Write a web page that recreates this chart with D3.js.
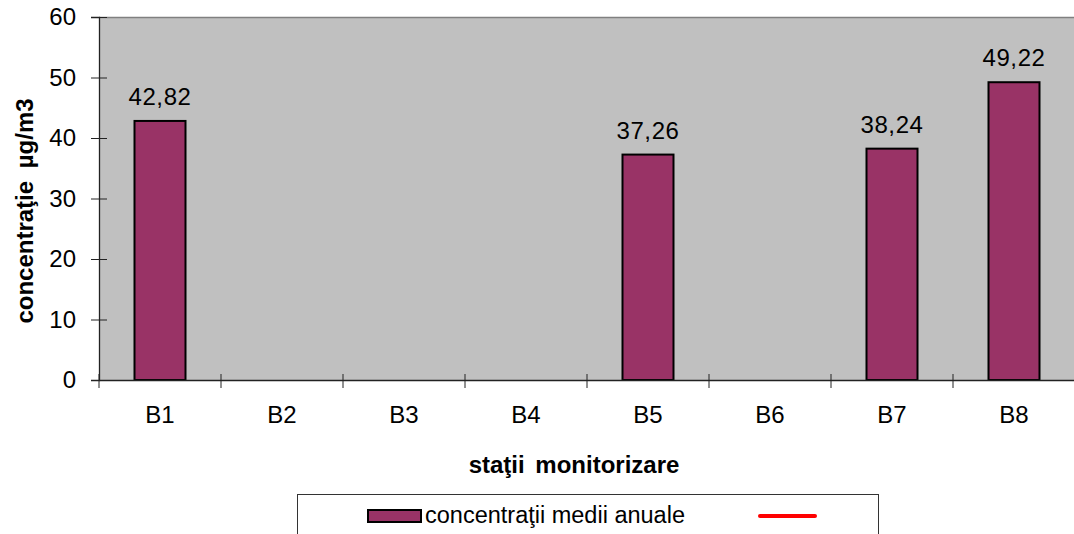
<!DOCTYPE html>
<html><head><meta charset="utf-8">
<script src="https://cdn.jsdelivr.net/npm/d3@7"></script>
<style>body{margin:0;background:#fff;}svg{display:block;font-family:"Liberation Sans",Arial,sans-serif;}</style>
</head><body>
<svg id="c" width="1074" height="534"></svg>
<script>
const categories = ["B1","B2","B3","B4","B5","B6","B7","B8"];
const values = [42.82, null, null, null, 37.26, null, 38.24, 49.22];
const yTicks = [0,10,20,30,40,50,60];
const seriesName = "concentraţii medii anuale";
const xTitle = "staţii monitorizare";
const yTitle = "concentraţie µg/m3";

const FS = 24;
const svg = d3.select("#c");
const m = {left:99, top:17, right:1075, bottom:380};
const x = d3.scaleBand().domain(categories).range([m.left, m.right]).paddingInner(0).paddingOuter(0);
const y = d3.scaleLinear().domain([0,60]).range([m.bottom, m.top]);

svg.append("rect").attr("x",m.left).attr("y",m.top).attr("width",m.right-m.left).attr("height",m.bottom-m.top).attr("fill","#c0c0c0");
svg.append("line").attr("x1",m.left).attr("x2",m.right).attr("y1",m.top+0.5).attr("y2",m.top+0.5).attr("stroke","#808080").attr("stroke-width",1.5);

const bw = 51;
const data = categories.map((c,i)=>({c, v: values[i]})).filter(d=>d.v!=null);
svg.selectAll("rect.bar").data(data).enter().append("rect").attr("class","bar")
  .attr("x", d=>x(d.c)+x.bandwidth()/2-bw/2)
  .attr("y", d=>y(d.v))
  .attr("width", bw)
  .attr("height", d=>y(0)-y(d.v))
  .attr("fill","#993366").attr("stroke","#000").attr("stroke-width",2);

const fmt = v => d3.format(".2f")(v).replace(".",",");
svg.selectAll("text.val").data(data).enter().append("text")
  .attr("x", d=>x(d.c)+x.bandwidth()/2)
  .attr("y", d=>y(d.v)-16)
  .attr("text-anchor","middle").attr("font-size",FS).attr("letter-spacing",0.6).attr("fill","#000")
  .text(d=>fmt(d.v));

// Y axis
const ya = svg.append("g").attr("transform",`translate(${m.left},0)`)
  .call(d3.axisLeft(y).tickValues(yTicks).tickSize(8).tickPadding(15));
ya.select(".domain").attr("stroke","#222").attr("stroke-width",1.3);
ya.selectAll(".tick line").attr("x2",-8).attr("x1",8).attr("stroke","#222");
ya.selectAll("text").attr("font-size",FS).attr("fill","#000").attr("font-family","Liberation Sans, Arial, sans-serif");

// X axis
const xa = svg.append("g").attr("transform",`translate(0,${m.bottom})`)
  .call(d3.axisBottom(x).tickSize(0).tickPadding(26));
xa.select(".domain").attr("stroke","#222").attr("stroke-width",1.3);
xa.selectAll("text").attr("font-size",FS).attr("fill","#000").attr("font-family","Liberation Sans, Arial, sans-serif");
const bounds = categories.map(c=>x(c)).concat([m.right]);
svg.selectAll("line.xt").data(bounds).enter().append("line")
  .attr("x1",d=>d).attr("x2",d=>d).attr("y1",m.bottom-6).attr("y2",m.bottom+8).attr("stroke","#222");

// Titles
svg.append("text").attr("x",574).attr("y",473).attr("text-anchor","middle")
  .attr("font-size",24).attr("font-weight","bold").attr("word-spacing",4).text(xTitle);
svg.append("text").attr("transform","translate(33,211) rotate(-90)").attr("text-anchor","middle")
  .attr("font-size",24).attr("font-weight","bold").attr("word-spacing",6).text(yTitle);

// Legend
svg.append("rect").attr("x",297.5).attr("y",494.5).attr("width",581).attr("height",60).attr("fill","#fff").attr("stroke","#333").attr("stroke-width",1);
svg.append("rect").attr("x",368).attr("y",510).attr("width",53).attr("height",12).attr("fill","#993366").attr("stroke","#000").attr("stroke-width",2);
svg.append("text").attr("x",425).attr("y",523).attr("font-size",23.5).text(seriesName);
svg.append("line").attr("x1",760).attr("x2",815).attr("y1",516).attr("y2",516).attr("stroke","#ff0000").attr("stroke-width",4).attr("stroke-linecap","round");
</script>
</body></html>
